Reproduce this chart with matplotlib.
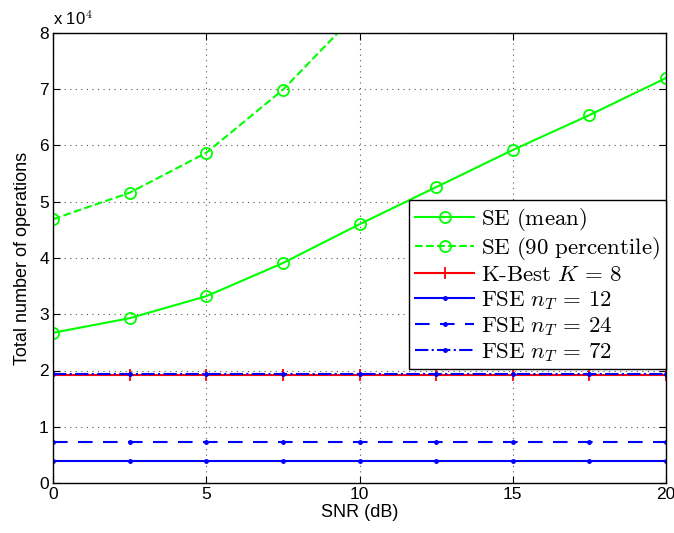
import matplotlib
matplotlib.use('Agg')
import matplotlib.pyplot as plt
from matplotlib.ticker import FuncFormatter, MultipleLocator

plt.rcParams['font.family'] = ['Liberation Sans', 'DejaVu Sans']
plt.rcParams['mathtext.fontset'] = 'cm'

# 数据
snr = [0, 2.5, 5, 7.5, 10, 12.5, 15, 17.5, 20]
se_mean = [26700, 29300, 33200, 39100, 46000, 52600, 59200, 65400, 72000]
snr_90 = [0, 2.5, 5, 7.5, 10]
se_90 = [46900, 51600, 58700, 69900, 84000]
kbest = [19200] * 9
fse12 = [4000] * 9
fse24 = [7300] * 9
fse72 = [19300] * 9

green = (0, 1, 0)
blue = (0, 0, 1)
red = (1, 0, 0)

fig = plt.figure(figsize=(6.74, 5.33), dpi=100)
ax = fig.add_axes([53 / 674, 50 / 533, 613 / 674, 450 / 533])

ax.plot(snr, se_mean, color=green, linestyle='-', marker='o', lw=1.5, ms=8,
        mfc='none', mew=1.3, label=r'$\mathrm{SE\ (mean)}$')
ax.plot(snr_90, se_90, color=green, linestyle='--', marker='o', lw=1.5, ms=8,
        mfc='none', mew=1.3, label=r'$\mathrm{SE\ (90\ percentile)}$')
ax.plot(snr, kbest, color=red, linestyle='-', marker='+', lw=1.5, ms=9, mew=1.3,
        label=r'$\mathrm{K\text{-}Best}\ K\,=\,8$')
ax.plot(snr, fse12, color=blue, linestyle='-', marker='.', lw=1.5, ms=5,
        label=r'$\mathrm{FSE}\ n_T\,=\,12$')
ax.plot(snr, fse24, color=blue, linestyle='--', marker='.', lw=1.5, ms=5,
        dashes=(7, 5), label=r'$\mathrm{FSE}\ n_T\,=\,24$')
ax.plot(snr, fse72, color=blue, linestyle='-.', marker='.', lw=1.5, ms=5,
        label=r'$\mathrm{FSE}\ n_T\,=\,72$')

ax.set_xlim(0, 20)
ax.set_ylim(0, 80000)
ax.xaxis.set_major_locator(MultipleLocator(5))
ax.yaxis.set_major_locator(MultipleLocator(10000))
ax.yaxis.set_major_formatter(FuncFormatter(lambda v, p: '%g' % (v / 1e4)))
ax.tick_params(direction='in', top=True, right=True, labelsize=12.5, length=5, pad=3)
ax.grid(True, color='#555555', linestyle=(0, (1, 4)), linewidth=0.8)
for s in ax.spines.values():
    s.set_linewidth(1.0)

ax.set_xlabel('SNR (dB)', fontsize=13, labelpad=1)
ax.set_ylabel('Total number of operations', fontsize=13, labelpad=6)
ax.text(0.0, 1.012, r'x 10$^{4}$', transform=ax.transAxes, fontsize=12,
        ha='left', va='bottom', family='Liberation Sans')

leg = ax.legend(loc='upper left', bbox_to_anchor=(409 / 674, 1 - 200 / 533),
                bbox_transform=fig.transFigure, fontsize=16.5, frameon=True,
                fancybox=False, edgecolor='black', framealpha=1,
                labelspacing=0.08, handlelength=2.6, handletextpad=0.3,
                borderpad=0.25, borderaxespad=0)
leg.get_frame().set_linewidth(1.0)

fig.savefig('out.png', dpi=100)
